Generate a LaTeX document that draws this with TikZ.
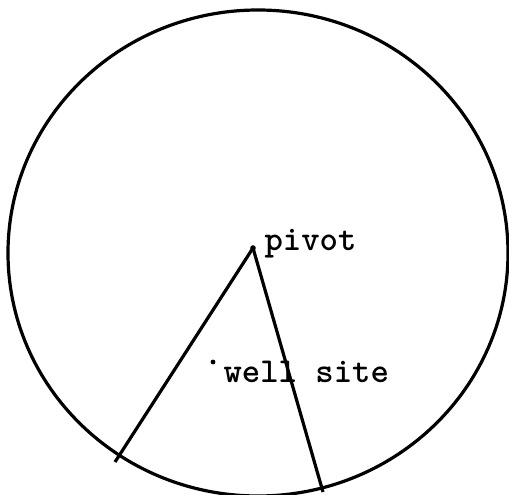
\documentclass[tikz,border=0pt]{standalone}
\usepackage{fontspec}
\begin{document}
\begin{tikzpicture}[x=1pt, y=-1pt, line width=3.2pt]
\tikzset{label text/.style={font=\ttfamily\bfseries\fontsize{35}{35}\selectfont, anchor=base west, inner sep=0pt}}
\useasboundingbox (0,0) rectangle (509,495);
\coordinate (centre) at (258,253);
\coordinate (pivot) at (253,248);
\coordinate (left end) at (115,462);
\coordinate (right end) at (323,492);
\coordinate (well) at (213,362);

\draw (centre) ellipse [x radius=250, y radius=243];
\draw (pivot) -- (left end);
\draw (pivot) -- (right end);
\fill (pivot) circle (2.8);
\fill (well) circle (2.4);

\node[label text] (pivot label) at (263,250) {pivot};
\node[label text] (well label) at (222,382) {well site};
\end{tikzpicture}
\end{document}
